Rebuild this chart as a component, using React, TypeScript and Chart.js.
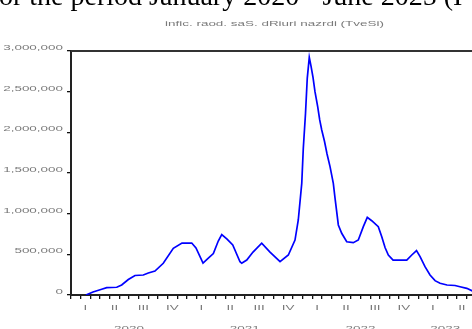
import React, { useEffect, useRef } from "react";
import { Chart, registerables } from "chart.js";

Chart.register(...registerables);

// Time position in months since 1 Jan 2020 (fractional) and values
const monthPos = [
  1.55, 2.28, 3.18, 3.7, 4.74, 5.25, 5.94, 6.63, 7.49, 8.01, 8.7, 9.56, 10.6, 11.5, 12.51,
  12.95, 13.68, 14.2, 14.75, 15.26, 15.62, 16.17, 16.76, 17.51, 17.69, 18.21, 18.86, 19.76,
  20.62, 21.66, 22.52, 23.21, 23.55, 23.91, 24.07, 24.3, 24.48, 24.69, 24.87, 25.08, 25.28,
  25.56, 25.77, 25.98, 26.27, 26.53, 26.84, 27.18, 27.36, 27.53, 27.7, 28.05, 28.57, 29.25,
  29.77, 30.29, 30.7, 31.16, 31.84, 32.2, 32.54, 32.88, 33.37, 34.79, 35.31, 35.8, 36.17,
  36.68, 37.2, 37.72, 38.24, 38.96, 39.79, 40.31, 41.01, 41.6,
];
const cases = [
  0, 37000, 70000, 90000, 95000, 123000, 190000, 240000, 246000, 270000, 295000, 390000,
  574000, 639000, 639000, 578000, 393000, 449000, 510000, 664000, 744000, 688000, 615000,
  409000, 390000, 430000, 528000, 636000, 528000, 409000, 492000, 676000, 922000, 1373000,
  1804000, 2234000, 2664000, 2922000, 2815000, 2674000, 2500000, 2315000, 2152000, 2029000,
  1887000, 1734000, 1578000, 1373000, 1189000, 1024000, 861000, 759000, 655000, 643000,
  676000, 840000, 955000, 913000, 840000, 717000, 584000, 492000, 430000, 430000, 492000,
  547000, 473000, 348000, 246000, 176000, 144000, 123000, 117000, 102000, 82000, 50000,
];
const yTicks = [0, 500000, 1000000, 1500000, 2000000, 2500000, 3000000];
const quarterLabels = ["I", "II", "III", "IV"];
const yearLabels = ["2020", "2021", "2022", "2023"];
const subtitle = "infic. raod. saS. dRiuri nazrdi (TveSi)";
const caption = "or the period January 2020 - June 2025 (I";
const visibleMonths = 41.55;

const SX = 1.68;

const textPlugin = {
  id: "stretchedText",
  afterDraw(chart: any) {
    const { ctx, chartArea, scales } = chart;
    const xs = scales.x;
    const ys = scales.y;
    ctx.save();
    // top frame line
    ctx.strokeStyle = "#333";
    ctx.lineWidth = 2;
    ctx.beginPath();
    ctx.moveTo(chartArea.left, chartArea.top);
    ctx.lineTo(chartArea.right, chartArea.top);
    ctx.stroke();

    ctx.fillStyle = "#7a7a7a";
    ctx.font = "8px 'Liberation Sans'";
    ctx.textBaseline = "alphabetic";
    const draw = (t: string, x: number, y: number, align: CanvasTextAlign) => {
      ctx.save();
      ctx.translate(x, y);
      ctx.scale(SX, 1);
      ctx.textAlign = align;
      ctx.fillText(t, 0, 0);
      ctx.restore();
    };
    yTicks.forEach((v) => draw(v.toLocaleString("en-US"), 63, ys.getPixelForValue(v) - 1, "right"));
    const max = xs.max;
    for (let q = 0; q * 3 + 1.5 < max; q++) {
      draw(quarterLabels[q % 4], xs.getPixelForValue(q * 3 + 1.5), 310, "center");
    }
    yearLabels.forEach((y, i) => {
      const a = i * 12;
      if (a >= max) return;
      const b = Math.min(a + 12, max);
      draw(y, xs.getPixelForValue((a + b) / 2), 331, "center");
    });
    draw(subtitle, (chartArea.left + chartArea.right) / 2 + 3, 26, "center");
    ctx.restore();
  },
};

export default function App() {
  const ref = useRef<HTMLCanvasElement>(null);
  useEffect(() => {
    if (!ref.current) return;
    const chart = new Chart(ref.current, {
      type: "line",
      data: {
        datasets: [
          {
            data: monthPos.map((m, i) => ({ x: m, y: cases[i] })),
            borderColor: "#0000ff",
            borderWidth: 1.7,
            pointRadius: 0,
            tension: 0,
            fill: false,
          },
        ],
      },
      options: {
        animation: false,
        responsive: false,
        layout: { padding: { top: 51, left: 0, right: 0, bottom: 0 } },
        plugins: { legend: { display: false }, tooltip: { enabled: false }, title: { display: false } },
        scales: {
          x: {
            type: "linear",
            min: 0,
            max: visibleMonths,
            afterBuildTicks: (s: any) => {
              const t = [];
              for (let i = 0; i <= Math.floor(visibleMonths); i++) t.push({ value: i });
              s.ticks = t;
            },
            afterFit: (s: any) => {
              s.height = 34;
            },
            ticks: { display: false },
            grid: { display: true, drawOnChartArea: false, drawTicks: true, tickLength: 4, color: "#111", lineWidth: 1.3 },
            border: { display: true, color: "#222", width: 2 },
          },
          y: {
            min: 0,
            max: 3000000,
            afterBuildTicks: (s: any) => {
              s.ticks = yTicks.map((v) => ({ value: v }));
            },
            afterFit: (s: any) => {
              s.width = 71;
            },
            ticks: { display: false },
            grid: { display: true, drawOnChartArea: false, drawTicks: true, tickLength: 4, color: "#111", lineWidth: 1.3 },
            border: { display: true, color: "#222", width: 2 },
          },
        },
      },
      plugins: [textPlugin],
    });
    return () => chart.destroy();
  }, []);

  return (
    <div
      style={{
        position: "fixed",
        left: 0,
        top: 0,
        width: 472,
        height: 329,
        overflow: "hidden",
        background: "#fff",
      }}
    >
      <canvas ref={ref} width={472} height={329} style={{ display: "block", position: "absolute", left: 0, top: 0 }} />
      <div
        style={{
          position: "absolute",
          left: -1,
          top: -18,
          fontFamily: "'Liberation Serif', serif",
          fontSize: 28,
          lineHeight: "28px",
          whiteSpace: "nowrap",
          color: "#000",
        }}
      >
        {caption}
      </div>
    </div>
  );
}
